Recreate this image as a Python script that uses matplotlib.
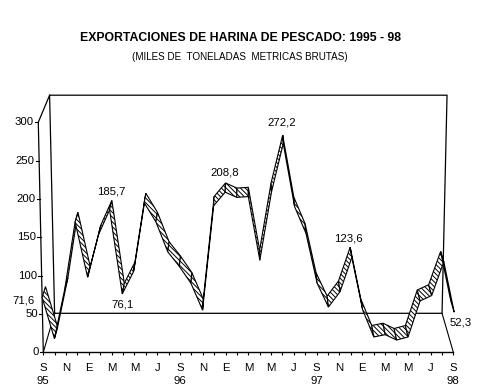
"""
exportaciones de harina de pescado, ribbon chart with a fake 3d wall
"""

import matplotlib
matplotlib.use("Agg")
import matplotlib.pyplot as plt
from matplotlib.patches import Polygon

plt.rcParams["font.family"] = ["Liberation Sans", "DejaVu Sans"]
plt.rcParams["hatch.linewidth"] = 0.7

# monthly values, sep 95 to sep 98
values = [71.6, 18, 83, 170, 98, 153, 185.7, 76.1, 105, 195, 170, 131, 112, 90, 55,
          191, 208.8, 202, 203, 120, 209, 272.2, 190, 155, 90, 59, 79, 123.6, 55,
          20, 23, 16, 20, 67, 74, 118, 52.3]
month_labels = ["S", "", "N", "", "E", "", "M", "", "M", "", "J", "", "S", "", "N", "",
                "E", "", "M", "", "M", "", "J", "", "S", "", "N", "", "E", "", "M", "",
                "M", "", "J", "", "S"]
year_pos = [0, 12, 24, 36]
year_labels = ["95", "96", "97", "98"]
y_ticks = [0, 50, 100, 150, 200, 250, 300]
# index, value text, offset of the label in index and value units
notes = [(0, "71,6", -1.7, -4), (6, "185,7", -0.05, 24), (7, "76,1", 0.0, -14),
         (16, "208,8", -0.1, 26), (21, "272,2", -0.1, 27.6), (27, "123,6", -0.18, 24.5),
         (36, "52,3", 0.6, -13.7)]

PX_X = 11.39  # pixels per month
PX_Y = 0.767  # pixels per thousand tonnes
X0, Y0 = 43.3, 352.3
W, H = 479, 390
CENTER = 18
RIBBON = 0.3  # ribbon depth as part of the wall depth


def front(i, v):
    # front plane spreads outward as it goes up
    return i + (i - CENTER) / CENTER * (v / 300) * (5 / PX_X), v


def depth(i, v, t):
    # move a front point t of the way to the back wall
    x, y = front(i, v)
    dx = (CENTER - i) / CENTER * (11.3 / PX_X)
    dy = (39 - 12 * v / 300) / PX_Y
    return x + t * dx, y + t * dy


fig = plt.figure(figsize=(W / 100, H / 100), dpi=100)
ax = fig.add_axes([0, 0, 1, 1])
ax.set_xlim(-X0 / PX_X, (W - X0) / PX_X)
ax.set_ylim((Y0 - H) / PX_Y, Y0 / PX_Y)

for s in ["left", "right", "top"]:
    ax.spines[s].set_visible(False)
ax.spines["bottom"].set_position(("data", 0))
ax.spines["bottom"].set_bounds(0, 36)
ax.spines["bottom"].set_linewidth(1.0)
ax.set_yticks([])
ax.set_xticks(range(37))
ax.set_xticklabels(month_labels, fontsize=8.2)
ax.tick_params(axis="x", length=2.5, width=0.8, pad=5)

# back wall and side edges
wall_x = [depth(0, 0, 1)[0], depth(0, 300, 1)[0], depth(36, 300, 1)[0], depth(36, 0, 1)[0]]
wall_y = [depth(0, 0, 1)[1], depth(0, 300, 1)[1], depth(36, 300, 1)[1], depth(36, 0, 1)[1]]
ax.plot(wall_x + [wall_x[0]], wall_y + [wall_y[0]], color="black", lw=0.9, zorder=1)
ax.plot([front(0, 0)[0], wall_x[0]], [0, wall_y[0]], color="black", lw=0.8, zorder=1)
ax.plot([front(36, 0)[0], wall_x[3]], [0, wall_y[3]], color="black", lw=0.8, zorder=1)
ax.plot([front(0, 0)[0], front(0, 300)[0], wall_x[1]], [0, 300, wall_y[1]],
        color="black", lw=0.9, zorder=1)

# ribbon, one hatched piece per month
for i in range(len(values) - 1):
    a = front(i, values[i])
    b = front(i + 1, values[i + 1])
    c = depth(i + 1, values[i + 1], RIBBON)
    d = depth(i, values[i], RIBBON)
    ax.add_patch(Polygon([a, b, c, d], closed=True, facecolor="white", edgecolor="black",
                         hatch="\\\\\\\\\\\\\\", linewidth=0.8, zorder=2))

# value axis, it leans with the front plane
for v in y_ticks:
    x, y = front(0, v)
    ax.plot([x - 0.3, x], [y, y], color="black", lw=0.8, zorder=3)
    ax.text(x - 0.4, y, str(v), ha="right", va="center", fontsize=8.2)

for i, txt in zip(year_pos, year_labels):
    ax.text(i, -37.4, txt, ha="center", va="center", fontsize=8.2)

for i, txt, ox, oy in notes:
    ax.text(i + ox, values[i] + oy, txt, ha="center", va="center", fontsize=8.2, zorder=4)

fig.text(240 / W, 1 - 38 / H, "EXPORTACIONES DE HARINA DE PESCADO: 1995 - 98",
         ha="center", va="center", fontsize=8.8, fontweight="bold")
fig.text(240 / W, 1 - 57 / H, "(MILES DE  TONELADAS  METRICAS BRUTAS)",
         ha="center", va="center", fontsize=7.1)

fig.savefig("out.png", dpi=100)
